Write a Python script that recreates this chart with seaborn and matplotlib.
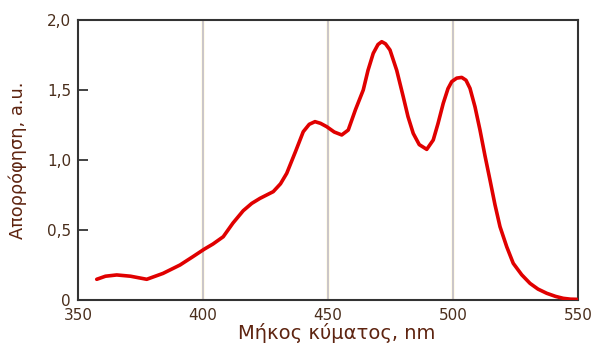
import numpy as np
import pandas as pd
import matplotlib
matplotlib.use("Agg")
import matplotlib.pyplot as plt
import seaborn as sns

# Absorption spectrum
wavelength = [357.5, 361, 365.5, 371, 377.5, 384, 390.8, 396, 400.4, 404, 408.1, 412, 416.1,
              419.5, 422.8, 428.1, 431, 433.5, 437, 440.1, 442.5, 444.8, 447, 449.5, 452.5,
              455.5, 458.1, 461, 464.1, 466, 468.1, 470, 471.5, 473, 474.8, 477.5, 480.1,
              482, 484.1, 486.5, 489.5, 492.1, 494, 496.1, 498, 499.5, 501.5, 503.5, 505.2,
              506.8, 508.8, 510.8, 512.8, 514.8, 516.8, 518.8, 521.5, 524.1, 527.5, 530.8,
              534, 537.5, 541, 544.1, 547, 549.5]
absorbance = [0.148, 0.170, 0.179, 0.170, 0.148, 0.190, 0.250, 0.310, 0.362, 0.400, 0.452,
              0.550, 0.638, 0.690, 0.726, 0.774, 0.830, 0.905, 1.060, 1.202, 1.255, 1.274,
              1.262, 1.238, 1.200, 1.179, 1.214, 1.360, 1.500, 1.640, 1.762, 1.825, 1.845,
              1.830, 1.786, 1.640, 1.452, 1.310, 1.190, 1.110, 1.076, 1.143, 1.260, 1.405,
              1.510, 1.560, 1.585, 1.590, 1.570, 1.512, 1.380, 1.214, 1.030, 0.857, 0.680,
              0.524, 0.380, 0.262, 0.180, 0.119, 0.078, 0.048, 0.026, 0.012, 0.006, 0.005]

x_ticks = [350, 400, 450, 500, 550]
y_ticks = [0, 0.5, 1.0, 1.5, 2.0]
y_tick_labels = ["0", "0,5", "1,0", "1,5", "2,0"]

df = pd.DataFrame({"nm": wavelength, "abs": absorbance})

sns.set_style("white")
plt.rcParams["font.family"] = ["DejaVu Sans"]

fig = plt.figure(figsize=(5.93, 3.45), dpi=100)
ax = fig.add_axes([0.1315, 0.1304, 0.8432, 0.8116])

for v in [400, 450, 500]:
    ax.axvline(v, color="#fffbe6", lw=2.6, zorder=0)
    ax.axvline(v, color="#bcb6c0", lw=1.1, zorder=1)

sns.lineplot(data=df, x="nm", y="abs", color="#e00000", lw=2.6, ax=ax, zorder=3)

ax.set_xlim(350, 550)
ax.set_ylim(0, 2.0)
ax.set_xticks(x_ticks)
ax.set_yticks(y_ticks)
ax.set_yticklabels(y_tick_labels)

tick_col = "#4a2e1c"
ax.tick_params(axis="y", direction="in", length=7, width=1.2, color="#222222",
               labelsize=11, labelcolor=tick_col, pad=5, left=True)
ax.tick_params(axis="x", length=0, labelsize=11, labelcolor=tick_col, pad=6)

for s in ax.spines.values():
    s.set_color("#333333")
    s.set_linewidth(1.5)

ax.set_xlabel("Μήκος κύματος, nm", fontsize=14, color="#5e2410")
ax.set_ylabel("Απορρόφηση, a.u.", fontsize=12.8, color="#5e2410")
ax.xaxis.set_label_coords(0.518, -0.083)
ax.yaxis.set_label_coords(-0.102, 0.5)

fig.savefig("out.png", dpi=100)
